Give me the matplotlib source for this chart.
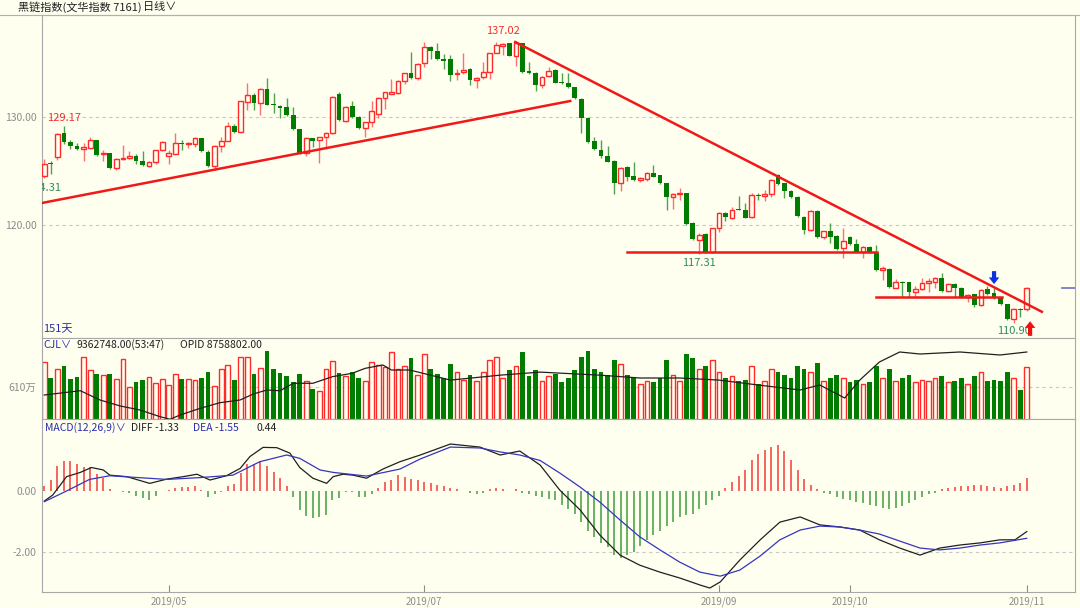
import numpy as np
import matplotlib.pyplot as plt

plt.rcParams['font.family'] = ['Noto Sans CJK SC', 'DejaVu Sans']

# daily bars, 151 days shown
opens = [124.54, 125.75, 126.26, 128.49, 127.72, 127.35, 127.06, 127.16, 127.87, 126.57,
         126.64, 125.25, 126.11, 126.17, 126.42, 125.93, 125.50, 125.80, 126.91, 126.42,
         126.60, 127.62, 127.50, 127.50, 128.03, 126.79, 125.46, 127.31, 127.78, 129.17,
         128.58, 131.42, 132.04, 131.33, 132.56, 131.20, 131.02, 130.90, 130.19, 128.86,
         126.70, 128.02, 127.87, 128.12, 128.49, 132.13, 129.66, 131.02, 130.03, 128.95,
         129.51, 130.25, 131.73, 132.13, 132.19, 133.33, 134.10, 133.58, 134.97, 136.45,
         136.14, 135.34, 135.34, 133.98, 134.14, 134.41, 133.43, 133.67, 134.20, 135.96,
         136.60, 136.82, 135.65, 136.82, 134.26, 134.11, 132.96, 133.83, 134.35, 133.24,
         133.12, 132.75, 131.67, 129.88, 127.78, 126.94, 126.39, 125.92, 123.86, 125.34,
         124.54, 124.17, 124.26, 124.78, 124.63, 123.86, 122.62, 122.84, 122.93, 120.16,
         118.61, 119.17, 117.53, 119.69, 121.14, 120.62, 121.48, 121.39, 120.71, 122.78,
         122.72, 122.87, 124.63, 123.86, 123.18, 122.62, 120.77, 119.54, 121.33, 118.86,
         119.42, 119.01, 117.84, 118.92, 118.21, 117.47, 117.99, 117.44, 115.83, 115.93,
         114.20, 114.75, 114.69, 113.77, 114.08, 114.60, 114.75, 115.12, 113.89, 114.51,
         114.14, 113.36, 113.58, 112.59, 114.08, 113.67, 113.27, 112.65, 111.30, 112.22,
         112.22]
highs = [126.11, 125.93, 128.50, 129.17, 127.87, 127.60, 127.56, 128.12, 127.90, 126.91,
         126.70, 126.23, 127.41, 126.85, 126.54, 126.85, 125.93, 126.94, 127.75, 126.94,
         128.49, 127.87, 127.72, 128.18, 128.09, 126.94, 127.41, 128.18, 129.57, 129.32,
         131.50, 133.12, 132.19, 132.65, 133.58, 132.19, 131.10, 131.79, 130.90, 128.90,
         128.12, 128.02, 128.18, 128.64, 131.94, 132.28, 131.02, 131.48, 130.09, 129.57,
         131.48, 131.88, 132.35, 133.48, 133.43, 134.11, 136.05, 134.97, 136.98, 136.57,
         136.88, 135.83, 135.74, 134.41, 135.90, 134.51, 133.67, 135.06, 135.96, 136.90,
         136.82, 136.88, 137.02, 136.88, 135.12, 134.20, 133.80, 134.60, 134.41, 134.11,
         134.04, 132.81, 131.73, 129.97, 128.18, 127.87, 127.31, 126.02, 125.40, 125.46,
         125.86, 124.48, 124.94, 125.56, 124.63, 123.92, 122.99, 123.40, 122.99, 120.31,
         119.29, 119.29, 119.75, 121.23, 121.23, 121.70, 122.69, 122.00, 122.93, 122.93,
         123.24, 124.23, 124.72, 123.92, 123.24, 122.69, 120.83, 121.39, 121.39, 119.48,
         120.15, 119.07, 119.75, 118.98, 118.70, 118.09, 118.09, 118.15, 116.23, 116.05,
         115.00, 114.81, 114.75, 114.38, 115.06, 115.06, 115.22, 115.52, 114.60, 114.60,
         114.29, 113.58, 113.64, 114.08, 114.38, 114.14, 113.33, 112.72, 112.28, 112.35,
         114.29]
lows = [124.31, 124.69, 126.02, 127.47, 127.04, 126.90, 125.93, 127.04, 126.42, 125.93,
        125.19, 125.06, 126.02, 126.11, 125.65, 125.50, 125.40, 125.65, 126.85, 125.62,
        126.57, 126.94, 127.10, 127.25, 126.79, 125.40, 125.09, 126.79, 127.78, 128.49,
        128.49, 130.65, 130.65, 130.19, 131.10, 130.40, 129.88, 130.10, 128.80, 126.58,
        126.39, 127.25, 125.71, 127.10, 128.43, 129.66, 129.57, 129.88, 128.92, 128.18,
        129.10, 129.94, 130.74, 132.13, 132.13, 133.06, 133.49, 133.43, 134.60, 135.34,
        135.28, 134.41, 133.36, 133.43, 133.98, 132.96, 132.65, 133.49, 133.49, 135.90,
        135.74, 135.65, 134.72, 134.11, 133.98, 132.41, 132.65, 133.74, 133.12, 133.06,
        132.65, 131.67, 128.49, 127.62, 126.94, 126.17, 125.80, 122.87, 123.18, 124.10,
        124.10, 124.01, 124.10, 124.41, 123.80, 121.39, 121.48, 122.31, 120.00, 118.61,
        117.31, 117.44, 117.44, 119.38, 120.40, 120.53, 121.39, 120.62, 120.62, 122.31,
        122.22, 122.63, 123.74, 122.47, 122.47, 120.71, 119.17, 119.48, 118.77, 118.67,
        118.30, 117.72, 116.97, 118.15, 117.47, 116.97, 117.44, 115.74, 114.91, 114.20,
        114.14, 113.36, 113.36, 113.36, 113.98, 113.77, 114.20, 113.83, 113.77, 113.36,
        113.27, 112.84, 112.44, 112.53, 113.52, 113.15, 112.59, 111.21, 110.90, 111.51,
        112.04]
closes = [125.68, 125.65, 128.40, 127.72, 127.31, 127.00, 127.22, 127.87, 126.48, 126.70,
          125.25, 126.11, 126.23, 126.42, 125.93, 125.56, 125.80, 126.94, 127.72, 126.63,
          127.62, 127.50, 127.62, 128.03, 126.85, 125.46, 127.31, 127.78, 129.17, 128.64,
          131.48, 132.01, 131.27, 132.56, 131.11, 131.08, 130.86, 130.19, 128.86, 126.70,
          128.02, 127.78, 128.12, 128.49, 131.88, 129.72, 130.96, 129.97, 129.01, 129.51,
          130.59, 131.79, 132.28, 132.28, 133.36, 134.04, 133.58, 134.88, 136.51, 136.14,
          135.34, 135.19, 133.89, 134.10, 134.35, 133.43, 133.58, 134.20, 135.96, 136.67,
          136.73, 135.68, 136.88, 134.20, 134.11, 132.96, 133.67, 134.29, 133.18, 133.12,
          132.81, 131.73, 129.94, 127.72, 127.04, 126.39, 125.86, 123.86, 125.31, 124.41,
          124.17, 124.32, 124.78, 124.48, 123.86, 122.56, 122.84, 122.99, 120.06, 118.67,
          119.11, 117.53, 119.69, 121.14, 120.71, 121.39, 121.40, 120.62, 122.78, 122.69,
          122.87, 124.17, 123.80, 123.18, 122.56, 120.83, 119.54, 121.33, 118.86, 119.42,
          118.92, 117.78, 118.52, 118.21, 117.47, 117.99, 117.47, 115.83, 116.05, 114.29,
          114.75, 114.66, 113.77, 114.08, 114.60, 114.81, 115.12, 113.89, 114.51, 114.20,
          113.36, 113.52, 112.59, 114.01, 113.58, 113.21, 112.65, 111.30, 112.22, 112.13,
          114.20]

# volume (CJL), in 万
volume = [1014, 760, 904, 953, 732, 771, 1097, 893, 821, 799,
          821, 732, 1069, 600, 694, 721, 766, 666, 732, 633,
          821, 732, 732, 721, 749, 854, 622, 898, 964, 721,
          1097, 1097, 815, 915, 1202, 898, 843, 788, 688, 815,
          705, 567, 539, 898, 1036, 832, 788, 848, 749, 705,
          1025, 970, 942, 1180, 898, 950, 1080, 800, 1150, 900,
          820, 750, 980, 860, 720, 800, 700, 850, 1050, 1100,
          750, 880, 950, 1180, 780, 890, 700, 780, 820, 680,
          750, 880, 1100, 1200, 900, 850, 800, 1050, 980, 800,
          750, 650, 700, 680, 750, 1050, 800, 700, 1150, 1080,
          900, 950, 1050, 850, 750, 780, 700, 720, 950, 650,
          700, 900, 850, 800, 750, 950, 900, 850, 1000, 700,
          750, 800, 750, 680, 720, 650, 680, 950, 750, 900,
          700, 750, 800, 680, 720, 700, 750, 780, 680, 700,
          750, 650, 780, 850, 700, 720, 700, 850, 750, 550,
          936.2748]
# open interest (OPID) read at a few bars, in 万
opid_idx = [0, 5.5, 8.5, 11.6, 14.6, 17.7, 19.2, 20.7, 23.8, 26.8, 29.9, 31.9, 34, 36, 38, 41,
            44, 47, 49, 51.7, 53, 55.8, 62, 69.6, 75.7, 84.8, 90.9, 97, 103, 109, 115.4,
            118.4, 122.2, 124.5, 127.5, 130.6, 133.7, 139.8, 145.9, 150]
opid_val = [762.8, 774.1, 749.7, 733.9, 723.4, 705.7, 699.0, 710.0, 727.8, 742.5, 749.7,
            765.4, 776.0, 774.0, 793.6, 793.6, 811.0, 819.9, 833.0, 841.7, 828.5, 828.5,
            802.0, 815.0, 823.0, 815.0, 807.5, 807.5, 802.0, 789.0, 776.0, 789.0, 754.9,
            802.0, 849.6, 875.9, 870.6, 875.9, 868.0, 875.8802]

# MACD(12,26,9)
diff_idx = [0, 1.3, 3.4, 5.5, 7.2, 9, 10, 12.6, 16.1, 18.7, 21.2, 23.3, 25.3, 27.8, 29.9,
            31.4, 33.4, 35.5, 37.5, 39, 41, 43.1, 44.1, 45.6, 47.1, 49.2, 51.7, 54.3, 57.4,
            62, 66.5, 69.6, 72.6, 75.7, 78.7, 81.8, 84.8, 87.9, 90.9, 94, 97, 100.1, 101.6,
            103.2, 106.2, 109.3, 112.3, 115.4, 118.4, 121.5, 124.5, 127.5, 130.6, 133.7,
            136.7, 139.8, 142.9, 145.9, 148.2, 150]
diff_val = [-0.33, -0.13, 0.47, 0.61, 0.77, 0.69, 0.52, 0.47, 0.25, 0.39, 0.47, 0.55, 0.36,
            0.50, 0.74, 1.13, 1.43, 1.42, 1.24, 0.77, 0.42, 0.25, 0.47, 0.55, 0.52, 0.42,
            0.72, 0.96, 1.18, 1.54, 1.44, 1.18, 1.31, 0.85, 0.03, -0.62, -1.44, -2.10,
            -2.43, -2.66, -2.85, -3.08, -3.18, -2.98, -2.26, -1.60, -1.02, -0.85, -1.11,
            -1.18, -1.28, -1.60, -1.87, -2.10, -1.87, -1.77, -1.70, -1.60, -1.60, -1.33]
dea_idx = [0, 3.4, 6.9, 10, 13.6, 18.7, 23.8, 28.8, 32.9, 37, 39, 42.1, 44.1, 49.2, 54.3,
           57.4, 62, 66.5, 69.6, 72.6, 75.7, 78.7, 81.8, 84.8, 87.9, 90.9, 94, 97, 100.1,
           103.2, 106.2, 109.3, 112.3, 115.4, 118.4, 121.5, 124.5, 127.5, 130.6, 133.7,
           136.7, 139.8, 142.9, 145.9, 150]
dea_val = [-0.35, 0.00, 0.38, 0.50, 0.45, 0.38, 0.44, 0.52, 0.96, 1.18, 1.07, 0.69, 0.61,
           0.49, 0.72, 1.05, 1.44, 1.41, 1.28, 1.18, 1.00, 0.59, 0.13, -0.36, -0.95, -1.50,
           -1.93, -2.33, -2.66, -2.79, -2.59, -2.13, -1.60, -1.28, -1.15, -1.18, -1.28,
           -1.41, -1.64, -1.87, -1.93, -1.87, -1.77, -1.70, -1.55]
macd_hist = [0.16, 0.36, 0.82, 0.98, 0.98, 0.87, 0.78, 0.78, 0.55, 0.42,
             0.07, 0.0, -0.04, -0.08, -0.15, -0.24, -0.30, -0.15, 0.0, 0.03,
             0.11, 0.14, 0.14, 0.17, 0.03, -0.20, -0.11, -0.04, 0.17, 0.23,
             0.58, 0.87, 0.87, 0.98, 0.83, 0.61, 0.44, 0.17, -0.19, -0.62,
             -0.81, -0.90, -0.86, -0.79, -0.30, -0.22, -0.04, -0.04, -0.19, -0.19,
             -0.11, 0.11, 0.28, 0.36, 0.52, 0.45, 0.40, 0.35, 0.30, 0.25,
             0.20, 0.15, 0.10, 0.05, 0.0, -0.05, -0.10, -0.05, 0.05, 0.10,
             0.08, 0.0, 0.05, -0.05, -0.10, -0.15, -0.20, -0.25, -0.30, -0.45,
             -0.60, -0.75, -1.00, -1.30, -1.50, -1.70, -1.85, -2.10, -2.20, -2.10,
             -2.00, -1.80, -1.60, -1.45, -1.30, -1.15, -1.00, -0.85, -0.80, -0.75,
             -0.60, -0.45, -0.30, -0.15, 0.10, 0.30, 0.50, 0.70, 1.00, 1.20,
             1.35, 1.45, 1.50, 1.30, 1.00, 0.70, 0.40, 0.20, 0.05, -0.05,
             -0.10, -0.20, -0.25, -0.30, -0.35, -0.40, -0.45, -0.50, -0.55, -0.60,
             -0.55, -0.50, -0.40, -0.30, -0.20, -0.10, -0.05, 0.05, 0.10, 0.12,
             0.15, 0.18, 0.20, 0.20, 0.15, 0.12, 0.10, 0.15, 0.20, 0.25,
             0.44]

month_ticks = [19, 58, 103, 123, 150]
month_labels = ['2019/05', '2019/07', '2019/09', '2019/10', '2019/11']

# hand drawn lines on the chart: (bar index, price)
up_line_x, up_line_y = [-0.35, 80.3], [122.04, 131.48]
down_line_x, down_line_y = [71.9, 152.3], [136.94, 111.97]
support1_x, support1_y = [89, 127.2], [117.53, 117.53]
support2_x, support2_y = [127, 146.2], [113.33, 113.33]

bg = '#FFFFF0'
red = '#FF2A2A'
green = '#007D00'
grey = '#8C8C8C'
blue_txt = '#2B2BA8'

o = np.array(opens); h = np.array(highs); l = np.array(lows); c = np.array(closes)
x = np.arange(len(c))
up = c >= o

fig = plt.figure(figsize=(10.8, 6.08), dpi=100, facecolor=bg)
L, W = 42 / 1080, 1033 / 1080
ax_p = fig.add_axes([L, 1 - 338 / 608, W, 323 / 608], facecolor=bg)
ax_v = fig.add_axes([L, 1 - 419 / 608, W, 81 / 608], facecolor=bg, sharex=ax_p)
ax_m = fig.add_axes([L, 1 - 592 / 608, W, 173 / 608], facecolor=bg, sharex=ax_p)

for ax in (ax_p, ax_v, ax_m):
    for s in ax.spines.values():
        s.set_color('#A8A8A8')
        s.set_linewidth(0.8)
    ax.tick_params(axis='y', length=0, colors=grey, labelsize=7.5, pad=4)
    ax.tick_params(axis='x', length=0, labelbottom=False)
ax_p.set_xlim(-0.35, 157.36)

# --- candles ---
ax_p.vlines(x[up], l[up], h[up], color='#FF7070', lw=1, zorder=2)
ax_p.vlines(x[~up], l[~up], h[~up], color='#4FA04F', lw=1, zorder=2)
ax_p.bar(x[up], np.maximum(c[up] - o[up], 0.04), bottom=o[up], width=0.72,
         facecolor=bg, edgecolor=red, lw=1, zorder=3)
ax_p.bar(x[~up], np.maximum(o[~up] - c[~up], 0.04), bottom=c[~up], width=0.72,
         color=green, lw=0, zorder=3)
ax_p.set_ylim(109.54, 139.44)
ax_p.set_yticks([120, 130])
ax_p.set_yticklabels(['120.00', '130.00'])
for yv in (120, 130):
    ax_p.axhline(yv, color='#C8C8C8', ls=(0, (3, 3)), lw=0.8, zorder=1)

# trend lines
ax_p.plot(up_line_x, up_line_y, color='#F01818', lw=1.8, zorder=4)
ax_p.plot(down_line_x, down_line_y, color='#F01818', lw=1.8, zorder=4)
ax_p.plot(support1_x, support1_y, color='#F01818', lw=1.8, zorder=4)
ax_p.plot(support2_x, support2_y, color='#F01818', lw=1.8, zorder=4)

# high / low labels
ax_p.annotate(f'{h[72]:.2f}', (70, h[72]), xytext=(0, 4), textcoords='offset points',
              ha='center', va='bottom', color='#F03030', fontsize=8)
ax_p.annotate(f'{h[3]:.2f}', (3, h[3]), xytext=(0, 2), textcoords='offset points',
              ha='center', va='bottom', color='#F03030', fontsize=8)
ax_p.annotate(f'{l[0]:.2f}', (0, l[0]), xytext=(0, -3), textcoords='offset points',
              ha='center', va='top', color='#2E8B57', fontsize=8, annotation_clip=False,
              clip_on=True)
ax_p.annotate(f'{l[100]:.2f}', (100, l[100]), xytext=(0, -3), textcoords='offset points',
              ha='center', va='top', color='#2E8B57', fontsize=8)
ax_p.annotate(f'{l[148]:.2f}', (148, l[148]), xytext=(0, -2), textcoords='offset points',
              ha='center', va='top', color='#2E8B57', fontsize=8, clip_on=True)
arrow = 'simple,head_width=0.95,head_length=0.6,tail_width=0.38'
ax_p.annotate('', xy=(145, h[144] + 0.15), xytext=(145, h[144] + 1.35),
              arrowprops=dict(arrowstyle=arrow, color='#1030E0', lw=0, mutation_scale=8,
                              shrinkA=0, shrinkB=0))
ax_p.annotate('', xy=(150.5, l[150] - 0.95), xytext=(150.5, l[150] - 2.3),
              arrowprops=dict(arrowstyle=arrow, color='#F01010', lw=0, mutation_scale=8,
                              shrinkA=0, shrinkB=0),
              annotation_clip=False)
ax_p.axhline(c[-1], xmin=0.987, xmax=1.0, color='#7070C8', lw=1.2)
ax_p.text(0.001, 0.028, '151天', transform=ax_p.transAxes, color=blue_txt,
          fontsize=8, va='center', ha='left')

# --- volume + open interest ---
vol = np.array(volume)
ax_v.bar(x[up], vol[up], width=0.72, facecolor=bg, edgecolor=red, lw=1)
ax_v.bar(x[~up], vol[~up], width=0.72, color=green, lw=0)
ax_v.set_ylim(75, 1417)
ax_v.set_yticks([610])
ax_v.set_yticklabels(['610万'])
ax_v.axhline(610, color='#C8C8C8', ls=(0, (3, 3)), lw=0.8, zorder=0)
ax_o = ax_v.twinx()
ax_o.plot(opid_idx, opid_val, color='#202020', lw=0.9)
ax_o.set_ylim(699.7, 912.7)
ax_o.set_yticks([])
for s in ax_o.spines.values():
    s.set_visible(False)
ty = 1 - 7 / 81
ax_v.text(0.001, ty, 'CJL∨', transform=ax_v.transAxes, color=blue_txt, fontsize=7.5, va='center')
ax_v.text(0.033, ty, f'{vol[-1] * 1e4:.2f}(53:47)', transform=ax_v.transAxes,
          color='#202020', fontsize=7.5, va='center')
ax_v.text(0.134, ty, f'OPID {opid_val[-1] * 1e4:.2f}', transform=ax_v.transAxes,
          color='#202020', fontsize=7.5, va='center')

# --- MACD ---
hist = np.array(macd_hist)
ax_m.vlines(x[hist >= 0], 0, hist[hist >= 0], color='#F23A3A', lw=1.1)
ax_m.vlines(x[hist < 0], 0, hist[hist < 0], color='#3E9E3E', lw=1.1)
ax_m.plot(diff_idx, diff_val, color='#202020', lw=0.9)
ax_m.plot(dea_idx, dea_val, color='#3535C0', lw=0.9)
ax_m.set_ylim(-3.31, 2.36)
ax_m.set_yticks([-2, 0])
ax_m.set_yticklabels(['-2.00', '0.00'])
ax_m.axhline(-2, color='#C8C8C8', ls=(0, (3, 3)), lw=0.8, zorder=0)
ty = 1 - 9 / 173
ax_m.text(0.003, ty, 'MACD(12,26,9)∨', transform=ax_m.transAxes, color=blue_txt, fontsize=7.5, va='center')
ax_m.text(0.086, ty, f'DIFF {diff_val[-1]:.2f}', transform=ax_m.transAxes, color='#202020', fontsize=7.5, va='center')
ax_m.text(0.146, ty, f'DEA {dea_val[-1]:.2f}', transform=ax_m.transAxes, color=blue_txt, fontsize=7.5, va='center')
ax_m.text(0.208, ty, f'{hist[-1]:.2f}', transform=ax_m.transAxes, color='#202020', fontsize=7.5, va='center')
ax_m.set_xticks(month_ticks)
ax_m.set_xticklabels(month_labels)
ax_m.tick_params(axis='x', labelbottom=True, direction='in', length=5, colors=grey,
                 labelsize=7, pad=3)

# title bar
fig.text(18 / 1080, 1 - 7 / 608, '黑链指数(文华指数 7161)', color='#202020', fontsize=8, va='center')
fig.text(143 / 1080, 1 - 7 / 608, '日线∨', color='#202020', fontsize=8, va='center')
fig.add_artist(plt.Line2D([0, 1], [1 - 15 / 608] * 2, color='#B0B0B0', lw=0.8))

fig.savefig('out.png', dpi=100, facecolor=bg)
